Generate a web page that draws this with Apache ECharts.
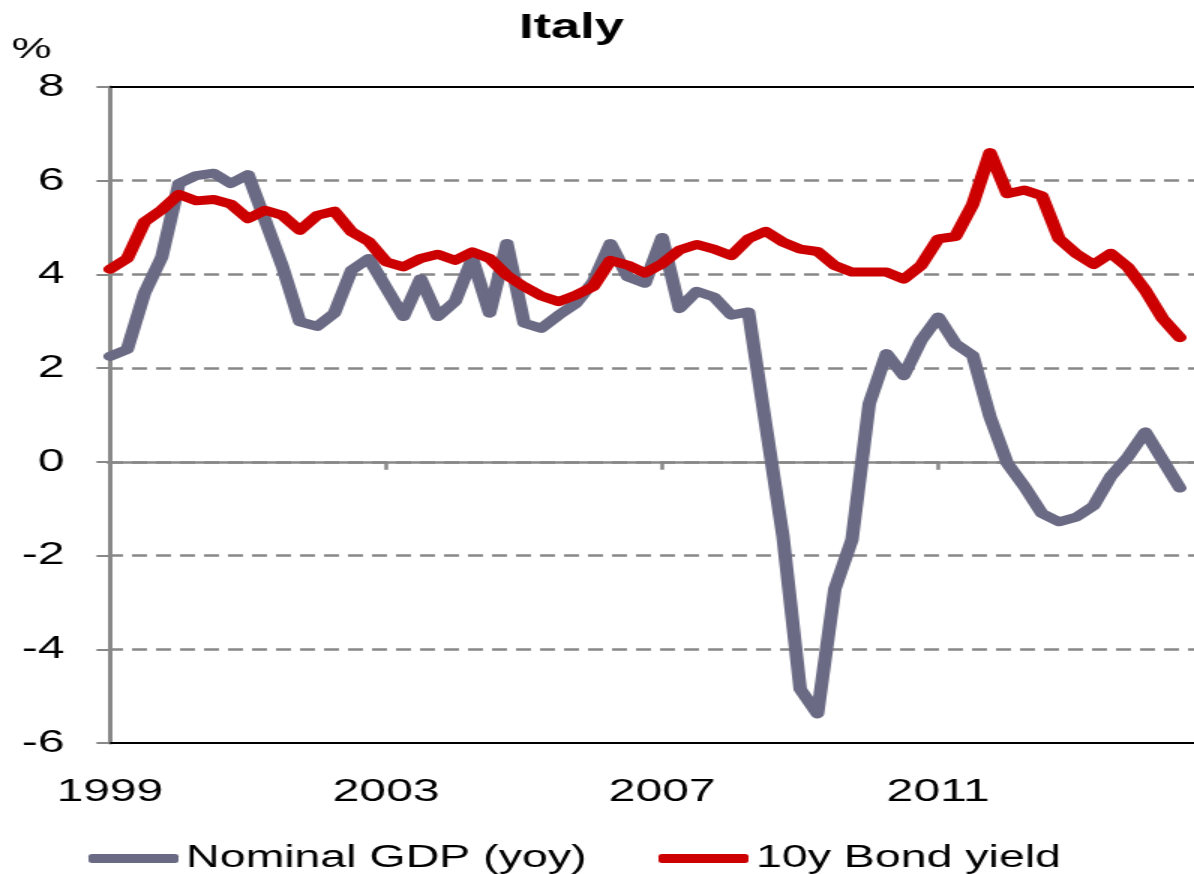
<!DOCTYPE html>
<html>
<head>
<meta charset="utf-8">
<script src="https://cdn.jsdelivr.net/npm/echarts@6/dist/echarts.min.js"></script>
<style>
	html, body { margin: 0; padding: 0; background: #fff; overflow: hidden; }
	/* the source picture is stretched sideways, so draw narrow and widen it */
	#container { width: 796px; height: 874px; transform: scaleX(1.5); transform-origin: 0 0; }
</style>
</head>
<body>
<div id="container"></div>
<script>
// quarterly data, 1999Q1 .. 2014Q3
var gdpYoy = [2.25, 2.40, 3.6, 4.37, 5.94, 6.11, 6.16, 5.94, 6.13, 5.15, 4.16, 2.99, 2.89, 3.17, 4.09, 4.34,
	3.72, 3.10, 3.91, 3.10, 3.42, 4.34, 3.17, 4.66, 2.96, 2.85, 3.13, 3.38, 3.84, 4.66, 3.95, 3.81,
	4.79, 3.27, 3.64, 3.52, 3.13, 3.20, 0.8, -1.59, -4.85, -5.38, -2.72, -1.66, 1.24, 2.31, 1.84, 2.59,
	3.09, 2.52, 2.27, 0.96, -0.03, -0.53, -1.1, -1.28, -1.18, -0.94, -0.31, 0.11, 0.64, 0.04, -0.56];
var bondYield = [4.11, 4.34, 5.12, 5.38, 5.71, 5.57, 5.60, 5.50, 5.19, 5.37, 5.26, 4.94, 5.26, 5.35, 4.91, 4.70,
	4.27, 4.16, 4.34, 4.43, 4.30, 4.48, 4.34, 3.98, 3.74, 3.54, 3.42, 3.56, 3.74, 4.30, 4.20, 4.03,
	4.23, 4.52, 4.64, 4.54, 4.40, 4.76, 4.92, 4.69, 4.54, 4.49, 4.19, 4.05, 4.05, 4.05, 3.90, 4.19,
	4.76, 4.81, 5.50, 6.60, 5.72, 5.80, 5.68, 4.76, 4.44, 4.21, 4.45, 4.15, 3.66, 3.06, 2.65];
var yearLabels = ['1999', '2003', '2007', '2011'];
var yearTickIdx = [0, 16, 32, 48];
var seriesNames = ['Nominal GDP (yoy)', '10y Bond yield'];

var font = 'Liberation Sans';
var myChart = echarts.init(document.getElementById('container'));

function pairs(arr) {
	return arr.map(function (v, i) { return [i, v]; });
}

var xMin = -0.115, xMax = 62.82; // plot box runs a bit past the last quarter

var option = {
	animation: false,
	graphic: [
		{ type: 'text', x: 381, y: 28, style: { text: 'Italy', font: 'bold 35px ' + font, fill: '#000', textAlign: 'center', textVerticalAlign: 'middle' } },
		{ type: 'text', x: 21, y: 50, style: { text: '%', font: '30px ' + font, fill: '#000', textAlign: 'center', textVerticalAlign: 'middle' } }
	],
	legend: {
		data: seriesNames,
		left: 54,
		top: 838,
		icon: 'roundRect',
		itemWidth: 60,
		itemHeight: 9,
		itemGap: 48,
		textStyle: { fontFamily: font, fontSize: 31, color: '#000' }
	},
	grid: { left: 72, right: 0, top: 87, bottom: 131, containLabel: false },
	xAxis: [
		{ // zero line with the year ticks
			type: 'value', min: xMin, max: xMax,
			axisLine: { onZero: true, lineStyle: { color: '#888', width: 2.5 } },
			axisTick: { show: true, customValues: yearTickIdx.slice(1), length: 8, lineStyle: { color: '#888', width: 2.5 } },
			axisLabel: { show: false },
			splitLine: { show: false }
		},
		{ // bottom border + labels
			type: 'value', min: xMin, max: xMax, position: 'bottom',
			axisLine: { onZero: false, lineStyle: { color: '#000', width: 2 } },
			axisTick: { show: false },
			axisLabel: {
				show: true, customValues: yearTickIdx, margin: 33,
				fontFamily: font, fontSize: 32, color: '#000',
				formatter: function (v) { return yearLabels[yearTickIdx.indexOf(Math.round(v))] || ''; }
			},
			splitLine: { show: false }
		},
		{ // top border
			type: 'value', min: xMin, max: xMax, position: 'top',
			axisLine: { onZero: false, lineStyle: { color: '#000', width: 2 } },
			axisTick: { show: false },
			axisLabel: { show: false },
			splitLine: { show: false }
		}
	],
	yAxis: {
		type: 'value', min: -6, max: 8, interval: 2,
		axisLine: { show: true, lineStyle: { color: '#888', width: 3 } },
		axisTick: { show: true, length: 9, lineStyle: { color: '#888', width: 2 } },
		axisLabel: { fontFamily: font, fontSize: 32, color: '#000', margin: 29 },
		splitLine: { show: true, showMinLine: false, showMaxLine: false, lineStyle: { color: '#888', width: 2.5, type: [10, 6] } }
	},
	series: [
		{
			name: seriesNames[0], type: 'line', xAxisIndex: 0,
			data: pairs(gdpYoy), showSymbol: false, symbol: 'none',
			lineStyle: { color: '#6a6a84', width: 9, join: 'round', cap: 'round' },
			itemStyle: { color: '#6a6a84' }
		},
		{
			name: seriesNames[1], type: 'line', xAxisIndex: 0,
			data: pairs(bondYield), showSymbol: false, symbol: 'none',
			lineStyle: { color: '#cc0000', width: 9, join: 'round', cap: 'round' },
			itemStyle: { color: '#cc0000' }
		}
	]
};

myChart.setOption(option);
</script>
</body>
</html>
